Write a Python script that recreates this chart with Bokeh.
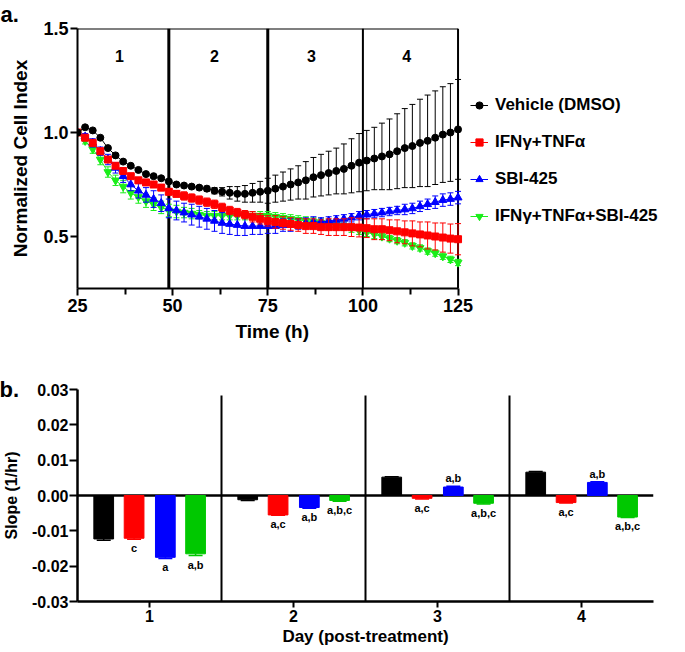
from bokeh.plotting import figure
from bokeh.models import (ColumnDataSource, Legend, LegendItem, Title,
                          FixedTicker, NumeralTickFormatter, Range1d)
from bokeh.layouts import column
from bokeh.embed import file_html
from bokeh.resources import INLINE
from bokeh.transform import dodge
from bokeh.core.properties import value

FONT = "Liberation Sans"

# ---------------- panel a data ----------------
hours = [25, 27, 29, 31, 33, 35, 37, 39, 41, 43,
         45, 47, 49, 51, 53, 55, 57, 59, 61, 63,
         65, 67, 69, 71, 73, 75, 77, 79, 81, 83,
         85, 87, 89, 91, 93, 95, 97, 99, 101, 103,
         105, 107, 109, 111, 113, 115, 117, 119, 121, 123,
         125]

vehicle = [1.00, 1.025, 1.01, 0.975, 0.925, 0.89, 0.86, 0.84, 0.82, 0.80,
           0.79, 0.78, 0.765, 0.75, 0.745, 0.74, 0.735, 0.73, 0.72, 0.715,
           0.71, 0.705, 0.705, 0.71, 0.715, 0.72, 0.73, 0.74, 0.75, 0.76,
           0.77, 0.785, 0.795, 0.805, 0.815, 0.825, 0.84, 0.855, 0.865, 0.875,
           0.885, 0.895, 0.91, 0.925, 0.935, 0.95, 0.96, 0.975, 0.99, 1.00,
           1.015]
vehicle_sd = [0.005, 0.005, 0.005, 0.005, 0.005, 0.005, 0.005, 0.005, 0.005, 0.005,
              0.006, 0.006, 0.008, 0.008, 0.008, 0.01, 0.01, 0.012, 0.015, 0.02,
              0.03, 0.035, 0.04, 0.045, 0.05, 0.06, 0.065, 0.07, 0.075, 0.08,
              0.09, 0.095, 0.10, 0.105, 0.11, 0.12, 0.13, 0.14, 0.145, 0.15,
              0.16, 0.17, 0.18, 0.19, 0.20, 0.21, 0.22, 0.225, 0.23, 0.235,
              0.24]

ifn_tnf = [1.00, 0.975, 0.95, 0.91, 0.87, 0.84, 0.815, 0.79, 0.77, 0.76,
           0.75, 0.735, 0.715, 0.705, 0.695, 0.685, 0.675, 0.665, 0.655, 0.64,
           0.625, 0.615, 0.605, 0.595, 0.585, 0.575, 0.57, 0.565, 0.56, 0.555,
           0.55, 0.55, 0.545, 0.545, 0.545, 0.545, 0.545, 0.543, 0.54, 0.535,
           0.535, 0.53, 0.525, 0.52, 0.515, 0.51, 0.505, 0.50, 0.495, 0.49,
           0.487]
ifn_tnf_sd = [0.01, 0.01, 0.01, 0.01, 0.01, 0.01, 0.01, 0.01, 0.01, 0.01,
              0.01, 0.015, 0.015, 0.015, 0.02, 0.02, 0.02, 0.02, 0.02, 0.02,
              0.02, 0.02, 0.02, 0.025, 0.025, 0.025, 0.03, 0.03, 0.03, 0.03,
              0.035, 0.035, 0.035, 0.04, 0.04, 0.04, 0.045, 0.045, 0.045, 0.05,
              0.05, 0.05, 0.055, 0.055, 0.06, 0.06, 0.065, 0.065, 0.07, 0.07,
              0.075]

sbi = [1.00, 0.98, 0.95, 0.91, 0.87, 0.83, 0.79, 0.75, 0.72, 0.70,
       0.68, 0.66, 0.635, 0.625, 0.615, 0.605, 0.595, 0.585, 0.575, 0.565,
       0.56, 0.555, 0.55, 0.55, 0.55, 0.55, 0.55, 0.555, 0.555, 0.56,
       0.565, 0.57, 0.57, 0.575, 0.58, 0.585, 0.59, 0.60, 0.605, 0.61,
       0.615, 0.62, 0.625, 0.63, 0.635, 0.645, 0.655, 0.665, 0.675, 0.68,
       0.687]
sbi_sd = [0.01, 0.015, 0.02, 0.02, 0.025, 0.025, 0.03, 0.03, 0.035, 0.035,
          0.04, 0.04, 0.045, 0.045, 0.045, 0.05, 0.05, 0.05, 0.05, 0.05,
          0.05, 0.05, 0.045, 0.04, 0.04, 0.035, 0.035, 0.03, 0.03, 0.025,
          0.025, 0.025, 0.02, 0.02, 0.02, 0.02, 0.02, 0.02, 0.02, 0.02,
          0.02, 0.02, 0.02, 0.025, 0.025, 0.025, 0.025, 0.03, 0.03, 0.03,
          0.03]

combo = [1.00, 0.96, 0.92, 0.87, 0.81, 0.77, 0.74, 0.71, 0.69, 0.67,
         0.655, 0.64, 0.625, 0.62, 0.615, 0.61, 0.605, 0.60, 0.60, 0.60,
         0.60, 0.60, 0.60, 0.60, 0.60, 0.60, 0.595, 0.59, 0.585, 0.58,
         0.575, 0.57, 0.565, 0.56, 0.555, 0.55, 0.54, 0.53, 0.52, 0.51,
         0.50, 0.49, 0.48, 0.47, 0.455, 0.445, 0.43, 0.42, 0.405, 0.39,
         0.375]
combo_sd = [0.01, 0.015, 0.02, 0.025, 0.025, 0.025, 0.03, 0.03, 0.03, 0.03,
            0.03, 0.03, 0.03, 0.03, 0.025, 0.025, 0.02, 0.02, 0.02, 0.02,
            0.02, 0.02, 0.02, 0.02, 0.02, 0.02, 0.02, 0.02, 0.02, 0.02,
            0.02, 0.02, 0.02, 0.02, 0.02, 0.02, 0.02, 0.02, 0.02, 0.02,
            0.015, 0.015, 0.015, 0.015, 0.015, 0.015, 0.015, 0.015, 0.015, 0.015,
            0.015]

series_names = ["Vehicle (DMSO)", "IFNγ+TNFα", "SBI-425", "IFNγ+TNFα+SBI-425"]
day_bounds = [49, 75, 100]
day_labels = ["1", "2", "3", "4"]

# ---------------- panel b data ----------------
days = [1, 2, 3, 4]
day_ticks = ["1", "2", "3", "4"]
slope_vehicle = [-0.0123, -0.0012, 0.0052, 0.0066]
slope_ifn = [-0.0121, -0.0055, -0.0008, -0.0020]
slope_sbi = [-0.0175, -0.0034, 0.0024, 0.0037]
slope_combo = [-0.0165, -0.0014, -0.0022, -0.0061]
err_vehicle = [0.0004, 0.0002, 0.0001, 0.0002]
err_ifn = [0.0003, 0.0001, 0.0002, 0.0001]
err_sbi = [0.0003, 0.0002, 0.0002, 0.0002]
err_combo = [0.0005, 0.0002, 0.0002, 0.0001]
sig_vehicle = ["", "", "", ""]
sig_ifn = ["c", "a,c", "a,c", "a,c"]
sig_sbi = ["a", "a,b", "a,b", "a,b"]
sig_combo = ["a,b", "a,b,c", "a,b,c", "a,b,c"]

# ---------------- styles ----------------
top_colors = ["#000000", "#ff0000", "#0000ff", "#1aee1a"]
bar_colors = ["#000000", "#ff0000", "#0000ff", "#00c800"]
markers = ["circle", "square", "triangle", "inverted_triangle"]
marker_sizes = [7, 7, 8, 8]
bound_widths = [3, 3, 2]
bar_offsets = [-0.318, -0.107, 0.11, 0.32]

T0, T1 = 25, 125          # time axis extent
Y0, Y1 = 0.25, 1.5        # cell index axis extent
FRAME_PX = 391            # pixels spanned by T0..T1
EXTRA_PX = 598            # frame width incl. legend area


def style_axes(fig, tick_size, label_size):
    for ax in list(fig.xaxis) + list(fig.yaxis):
        ax.axis_line_width = 2
        ax.major_tick_line_width = 2
        ax.minor_tick_line_width = 2
        ax.major_tick_in = 0
        ax.minor_tick_in = 0
        ax.major_label_text_font = FONT
        ax.major_label_text_font_style = "bold"
        ax.major_label_text_font_size = tick_size
        ax.major_label_text_color = "black"
        ax.axis_label_text_font = FONT
        ax.axis_label_text_font_style = "bold"
        ax.axis_label_text_font_size = label_size
        ax.axis_label_text_color = "black"


# ================= panel a =================
p = figure(width=675, height=356,
           x_range=Range1d(T0, T0 + (T1 - T0) * EXTRA_PX / FRAME_PX), y_range=Range1d(Y0, Y1),
           output_backend="svg", toolbar_location=None,
           min_border_left=69, min_border_right=0, min_border_top=28, min_border_bottom=68)
p.title = Title(text="a.", align="left", vertical_align="top", offset=-77, standoff=0,
                text_font=FONT, text_font_style="bold", text_font_size="22px",
                text_color="black")
p.grid.visible = False
p.outline_line_color = None
p.background_fill_color = "white"
p.border_fill_color = "white"

p.xaxis.ticker = FixedTicker(ticks=[25, 50, 75, 100, 125], minor_ticks=[37.5, 62.5, 87.5, 112.5])
p.xaxis.bounds = (T0, T1)
p.yaxis.ticker = FixedTicker(ticks=[0.5, 1.0, 1.5], minor_ticks=[])
p.yaxis.formatter = NumeralTickFormatter(format="0.0")
p.yaxis.axis_label = "Normalized Cell Index"
style_axes(p, "18px", "19px")
p.xaxis.major_tick_out = 7
p.xaxis.minor_tick_out = 6
p.yaxis.major_tick_out = 7
p.xaxis.major_label_standoff = 3
p.yaxis.major_label_standoff = 2
p.yaxis.axis_label_standoff = 9

# x-axis title centred under the time span (the frame also holds the legend area)
p.add_layout(Title(text="Time (h)", align="left", vertical_align="top", offset=158, standoff=12,
                   text_font=FONT, text_font_style="bold", text_font_size="19px",
                   text_color="black"), "below")

# box: top edge, right edge and the day boundaries
p.segment(x0=[T0], y0=[Y1], x1=[T1], y1=[Y1], line_color="black", line_width=2)
p.segment(x0=[T1], y0=[Y0], x1=[T1], y1=[Y1], line_color="black", line_width=2)
for b, w in zip(day_bounds, bound_widths):
    p.segment(x0=[b], y0=[Y0], x1=[b], y1=[Y1], line_color="black", line_width=w)

edges = [T0] + day_bounds + [T1]
region_x = [(edges[i] + edges[i + 1]) / 2 - 1 for i in range(len(day_labels))]
p.text(x=region_x, y=[1.37] * len(day_labels), text=day_labels,
       text_font=value(FONT), text_font_style="bold", text_font_size="16px",
       text_align="center", text_baseline="middle", text_color="black")

series = [(vehicle, vehicle_sd), (ifn_tnf, ifn_tnf_sd), (sbi, sbi_sd), (combo, combo_sd)]
legend_items = [None] * 4
for i in [3, 2, 1, 0]:
    vals, sd = series[i]
    upper = [v + s for v, s in zip(vals, sd)]
    lower = [v - s for v, s in zip(vals, sd)]
    src = ColumnDataSource(dict(t=hours, v=vals, up=upper, lo=lower))
    c = top_colors[i]
    p.segment(x0="t", y0="lo", x1="t", y1="up", source=src, line_color=c, line_width=1)
    p.scatter(x="t", y="up", source=src, marker="dash", size=6, line_color=c, line_width=1)
    p.scatter(x="t", y="lo", source=src, marker="dash", size=6, line_color=c, line_width=1)
    lr = p.line(x="t", y="v", source=src, line_color=c, line_width=1)
    sr = p.scatter(x="t", y="v", source=src, marker=markers[i], size=marker_sizes[i],
                   fill_color=c, line_color=c)
    legend_items[i] = LegendItem(label=series_names[i], renderers=[lr, sr])

legend = Legend(items=legend_items, location=(FRAME_PX + 2, 60),
                label_text_font=FONT, label_text_font_style="bold",
                label_text_font_size="17px", label_text_color="black",
                glyph_width=18, glyph_height=24, label_height=24, spacing=13,
                label_standoff=7, padding=0, margin=0,
                border_line_color=None, background_fill_alpha=0)
p.add_layout(legend)

# ================= panel b =================
q = figure(width=669, height=293, x_range=Range1d(0.5, 4.5), y_range=Range1d(-0.03, 0.03),
           output_backend="svg", toolbar_location=None,
           min_border_left=70, min_border_right=16, min_border_top=33, min_border_bottom=48)
q.title = Title(text="b.", align="left", vertical_align="bottom", offset=-78, standoff=-25,
                text_font=FONT, text_font_style="bold", text_font_size="22px",
                text_color="black")
q.grid.visible = False
q.outline_line_color = None
q.background_fill_color = "white"
q.border_fill_color = "white"

q.xaxis.ticker = FixedTicker(ticks=days, minor_ticks=[])
q.xaxis.major_label_overrides = {d: t for d, t in zip(days, day_ticks)}
q.yaxis.ticker = FixedTicker(ticks=[-0.03, -0.02, -0.01, 0.0, 0.01, 0.02, 0.03], minor_ticks=[])
q.yaxis.formatter = NumeralTickFormatter(format="0.00")
q.xaxis.axis_label = "Day (post-treatment)"
q.yaxis.axis_label = "Slope (1/hr)"
style_axes(q, "16px", "17px")
q.yaxis.axis_label_text_font_size = "16px"
q.xaxis.axis_line_width = 2.5
q.yaxis.axis_line_width = 2.5
q.xaxis.major_tick_out = 6
q.yaxis.major_tick_out = 8
q.xaxis.major_label_standoff = 2
q.xaxis.axis_label_standoff = 2
q.yaxis.major_label_standoff = 1
q.yaxis.axis_label_standoff = 9

sep_x = [d + 0.5 for d in days[:-1]]
q.segment(x0=sep_x, y0=[-0.03] * len(sep_x), x1=sep_x, y1=[0.0283] * len(sep_x),
          line_color="black", line_width=2)
q.segment(x0=[0.5], y0=[0], x1=[4.5], y1=[0], line_color="black", line_width=2.5)

bars = [(slope_vehicle, err_vehicle, sig_vehicle), (slope_ifn, err_ifn, sig_ifn),
        (slope_sbi, err_sbi, sig_sbi), (slope_combo, err_combo, sig_combo)]
for i, (vals, errs, sigs) in enumerate(bars):
    ends = [v + (e if v >= 0 else -e) for v, e in zip(vals, errs)]
    src = ColumnDataSource(dict(
        day=days, v=vals, end=ends, sig=sigs,
        yoff=[-2 if v >= 0 else 3 for v in vals],
        base=["bottom" if v >= 0 else "top" for v in vals]))
    c = bar_colors[i]
    q.vbar(x=dodge("day", bar_offsets[i], range=q.x_range), top="v", bottom=0,
           width=0.137, source=src, fill_color=c, line_color=c)
    q.segment(x0=dodge("day", bar_offsets[i], range=q.x_range), y0="v",
              x1=dodge("day", bar_offsets[i], range=q.x_range), y1="end",
              source=src, line_color=c, line_width=1.5)
    q.scatter(x=dodge("day", bar_offsets[i], range=q.x_range), y="end", source=src,
              marker="dash", size=14, line_color=c, line_width=1.5)
    q.text(x=dodge("day", bar_offsets[i], range=q.x_range), y="end", text="sig", source=src,
           text_font=value(FONT), text_font_style="bold", text_font_size="11px",
           text_align="center", text_baseline="base", y_offset="yoff", text_color="black")

layout = column(p, q, spacing=0)
open("out.html", "w").write(file_html(layout, INLINE))
